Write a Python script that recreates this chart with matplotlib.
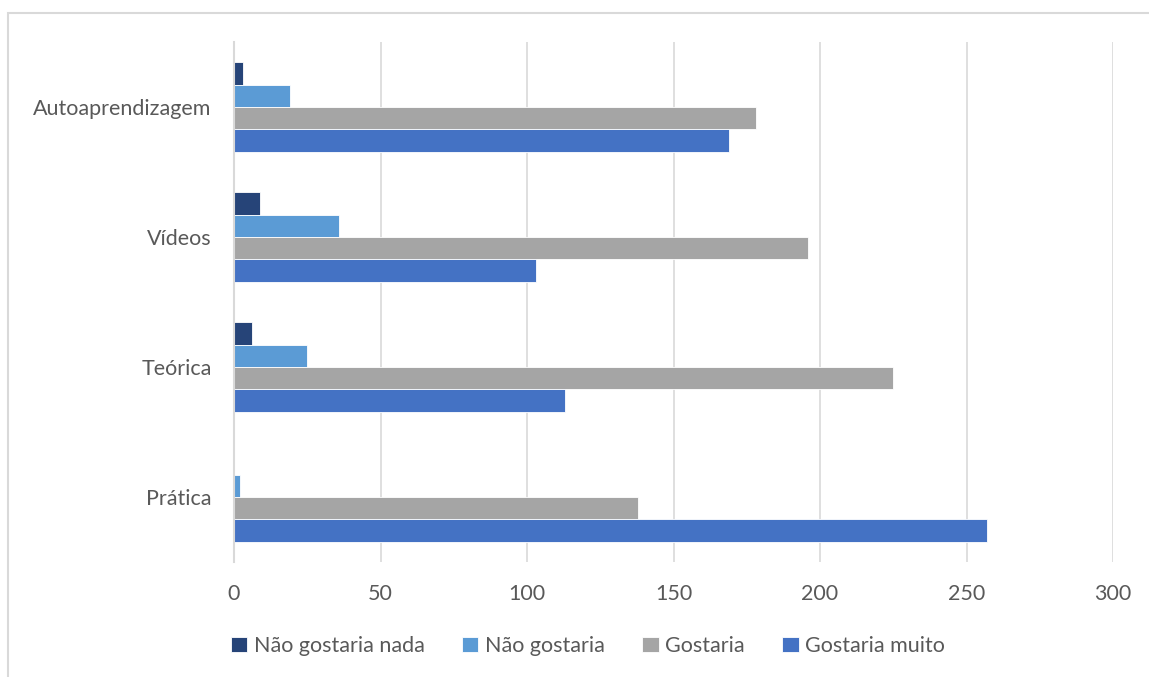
import matplotlib.pyplot as plt
import numpy as np
from matplotlib.patches import Rectangle

plt.rcParams['font.family'] = ['Lato', 'DejaVu Sans']

categorias = ["Prática", "Teórica", "Vídeos", "Autoaprendizagem"]
series = ["Não gostaria nada", "Não gostaria", "Gostaria", "Gostaria muito"]
nao_gostaria_nada = [0, 6, 9, 3]
nao_gostaria = [2, 25, 36, 19]
gostaria = [138, 225, 196, 178]
gostaria_muito = [257, 113, 103, 169]
valores = [nao_gostaria_nada, nao_gostaria, gostaria, gostaria_muito]
cores = ["#264478", "#5B9BD5", "#A5A5A5", "#4472C4"]

W, H = 1149, 677
fig = plt.figure(figsize=(W / 100, H / 100), dpi=100)
ax = fig.add_axes([234 / W, 1 - 562 / H, (1113 - 234) / W, (562 - 42) / H])

y = np.arange(len(categorias))
h = 0.173
# serie 1 no topo do grupo, serie 4 em baixo
offsets = [1.5 * h, 0.5 * h, -0.5 * h, -1.5 * h]
for vals, cor, off, nome in zip(valores, cores, offsets, series):
    ax.barh(y + off, vals, height=h, color=cor, edgecolor="white", linewidth=0.6, label=nome)

ax.set_xlim(0, 300)
ax.set_ylim(-0.5, len(categorias) - 0.5)
ax.set_xticks(np.arange(0, 301, 50))
ax.set_yticks(y)
ax.set_yticklabels(categorias)
ax.grid(axis="x", color="#D9D9D9", linewidth=1.2)
ax.set_axisbelow(True)
for s in ["top", "right", "bottom"]:
    ax.spines[s].set_visible(False)
ax.spines["left"].set_color("#D9D9D9")
ax.spines["left"].set_linewidth(1.5)
ax.tick_params(axis="both", length=0, labelsize=15.5, labelcolor="#595959")
ax.tick_params(axis="x", pad=16)
ax.tick_params(axis="y", pad=16)

fig.legend(loc="center", bbox_to_anchor=(588 / W, 1 - 646 / H), ncol=4, frameon=False,
           fontsize=15.5, labelcolor="#595959", handlelength=0.75, handleheight=0.75,
           handletextpad=0.3, columnspacing=1.75)

# moldura do grafico
fig.patches.append(Rectangle((8 / W, -0.05), 1.2, 1 - 13 / H + 0.05, transform=fig.transFigure,
                             fill=False, edgecolor="#D9D9D9", linewidth=1.5))

fig.savefig("out.png", dpi=100)
